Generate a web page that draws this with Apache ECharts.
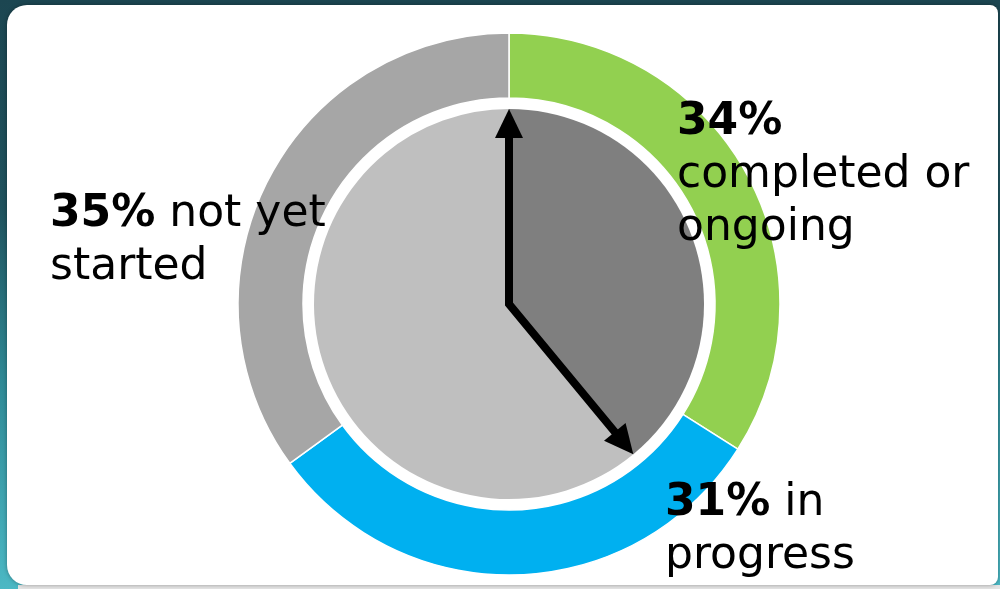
<!DOCTYPE html>
<html>
<head>
<meta charset="utf-8">
<script src="https://cdn.jsdelivr.net/npm/echarts@6/dist/echarts.min.js"></script>
<style>
  html, body { margin: 0; padding: 0; }
  #chart {
    width: 1000px; height: 589px;
    background: linear-gradient(180deg, #1c4651 0%, #1f525d 35%, #2f8a96 65%, #4bb8c4 100%);
  }
</style>
</head>
<body>
<div id="chart"></div>
<script>
// Status shares (outer ring) and elapsed share (inner disc)
const statusNames = ['completed or ongoing', 'in progress', 'not yet started'];
const statusValues = [34, 31, 35];
const statusColors = ['#92D050', '#00B0F0', '#A6A6A6'];
const elapsedNames = ['elapsed', 'remaining'];
const elapsedValues = [39, 61];
const elapsedColors = ['#7F7F7F', '#BFBFBF'];

const CX = 509, CY = 304;
const R_OUT = [206, 271];
const R_IN = 195;
const FONT = '"DejaVu Sans", sans-serif';

const chart = echarts.init(document.getElementById('chart'), null, { renderer: 'canvas' });

// Arrow from the disc centre along both edges of the elapsed wedge
const total = elapsedValues.reduce((a, b) => a + b, 0);
const endDeg = 90 - 360 * elapsedValues[0] / total;   // math angle, counter-clockwise from +x
function pt(deg, r) {
  const a = deg * Math.PI / 180;
  return [CX + r * Math.cos(a), CY - r * Math.sin(a)];
}
const TIP_R = 195, HEAD_LEN = 29, HEAD_HALF = 14;
function head(deg) {
  const tip = pt(deg, TIP_R);
  const base = pt(deg, TIP_R - HEAD_LEN);
  const a = deg * Math.PI / 180;
  const nx = -Math.sin(a), ny = -Math.cos(a);
  return {
    type: 'polygon', z: 100,
    shape: { points: [tip, [base[0] + nx * HEAD_HALF, base[1] + ny * HEAD_HALF], [base[0] - nx * HEAD_HALF, base[1] - ny * HEAD_HALF]] },
    style: { fill: '#000' }
  };
}
const arrowLine = {
  type: 'polyline', z: 100,
  shape: { points: [pt(90, TIP_R - HEAD_LEN + 2), [CX, CY], pt(endDeg, TIP_R - HEAD_LEN + 2)] },
  style: { stroke: '#000', lineWidth: 8, lineJoin: 'miter', fill: null }
};

const rich = {
  b: { fontFamily: FONT, fontSize: 44, fontWeight: 'bold', color: '#000', lineHeight: 53 },
  n: { fontFamily: FONT, fontSize: 44, color: '#000', lineHeight: 53 }
};
function label(x, y, text) {
  return { type: 'text', z: 100, x: x, y: y, style: { text: text, rich: rich, verticalAlign: 'top', align: 'left' } };
}

chart.setOption({
  animation: false,
  graphic: [
    { type: 'rect', z: -10, shape: { x: 18, y: 585, width: 982, height: 4 }, style: { fill: '#e4e4e4' } },
    { type: 'rect', z: -5, shape: { x: 7, y: 5, width: 991, height: 580, r: [20, 8, 8, 20] },
      style: { fill: '#ffffff', shadowBlur: 4, shadowColor: 'rgba(0,0,0,0.35)' } },
    arrowLine, head(90), head(endDeg),
    label(677, 96, `{b|${statusValues[0]}%}\n{n|completed or}\n{n|ongoing}`),
    label(50, 188, `{b|${statusValues[2]}%}{n| not yet}\n{n|started}`),
    label(665, 477, `{b|${statusValues[1]}%}{n| in}\n{n|progress}`)
  ],
  series: [
    {
      type: 'pie', name: 'status', center: [CX, CY], radius: R_OUT,
      startAngle: 90, clockwise: true, silent: true,
      label: { show: false }, labelLine: { show: false },
      itemStyle: { borderColor: '#ffffff', borderWidth: 1.5 },
      data: statusNames.map((n, i) => ({ name: n, value: statusValues[i], itemStyle: { color: statusColors[i] } }))
    },
    {
      type: 'pie', name: 'elapsed', center: [CX, CY], radius: [0, R_IN],
      startAngle: 90, clockwise: true, silent: true,
      label: { show: false }, labelLine: { show: false },
      itemStyle: { borderWidth: 0 },
      data: elapsedNames.map((n, i) => ({ name: n, value: elapsedValues[i], itemStyle: { color: elapsedColors[i] } }))
    }
  ]
});
</script>
</body>
</html>
